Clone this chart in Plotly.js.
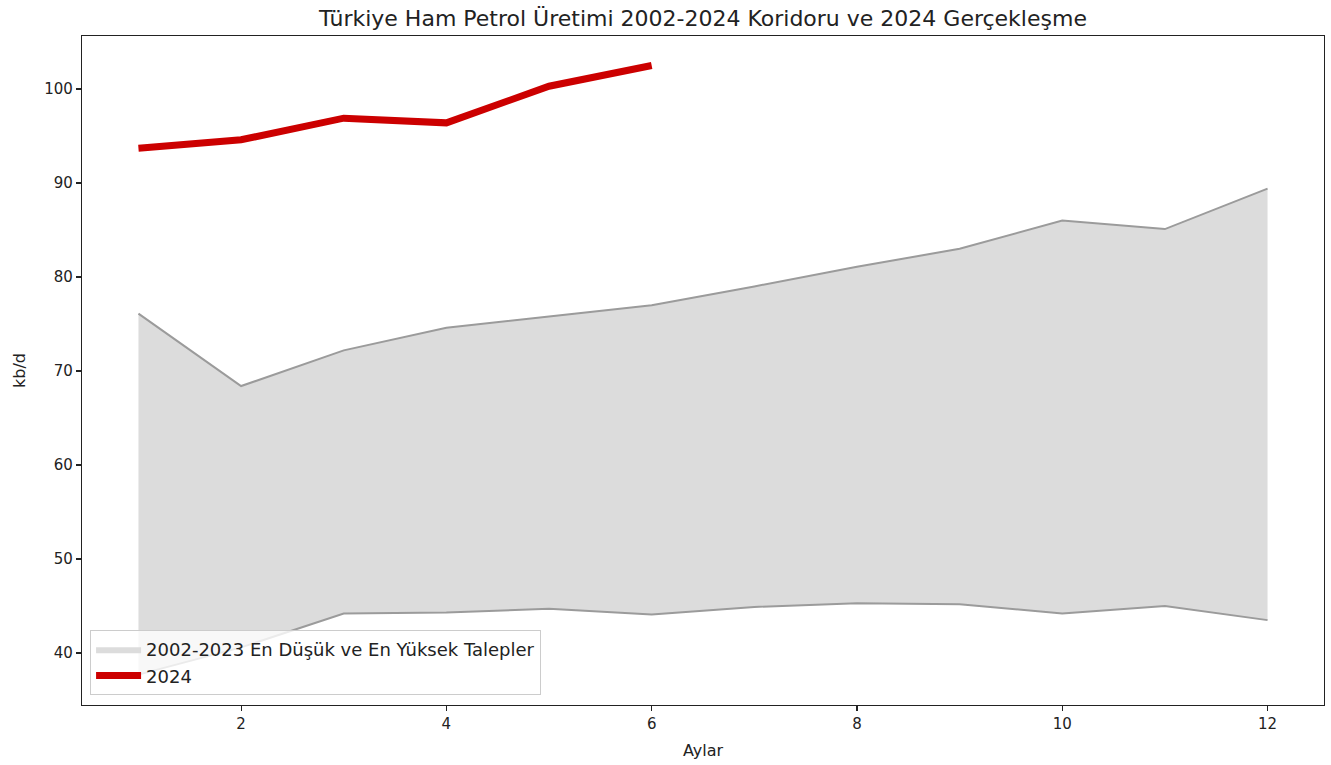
<!DOCTYPE html>
<html>
<head>
<meta charset="utf-8">
<script src="https://cdn.plot.ly/plotly-3.0.1.min.js"></script>
<style>html,body{margin:0;padding:0;background:#fff;}#chart{width:1331px;height:765px;}</style>
</head>
<body>
<div id="chart"></div>
<script>
const months = [1,2,3,4,5,6,7,8,9,10,11,12];
const minValues = [37.7,40.6,44.2,44.3,44.7,44.1,44.9,45.3,45.2,44.2,45.0,43.5];
const maxValues = [76.1,68.4,72.2,74.6,75.8,77.0,79.0,81.1,83.0,86.0,85.1,89.4];
const months2024 = [1,2,3,4,5,6];
const values2024 = [93.7,94.6,96.9,96.4,100.3,102.5];
const xTicks = [2,4,6,8,10,12];
const yTicks = [40,50,60,70,80,90,100];

const fillColor = 'rgb(220,220,220)';
const edgeColor = 'rgb(155,155,155)';

// corridor polygon built from the min/max arrays
const polyX = months.concat(months.slice().reverse());
const polyY = minValues.concat(maxValues.slice().reverse());

const traces = [
  {x: polyX, y: polyY, type: 'scatter', mode: 'lines', fill: 'toself', fillcolor: fillColor,
   line: {width: 0, color: fillColor}, name: '2002-2023 En Düşük ve En Yüksek Talepler'},
  {x: months, y: minValues, type: 'scatter', mode: 'lines', line: {color: edgeColor, width: 2}, showlegend: false},
  {x: months, y: maxValues, type: 'scatter', mode: 'lines', line: {color: edgeColor, width: 2}, showlegend: false},
  {x: months2024, y: values2024, type: 'scatter', mode: 'lines', line: {color: '#cc0000', width: 7}, name: '2024'}
];

const axisCommon = {
  showline: true, mirror: true, linecolor: '#222', linewidth: 1.2,
  ticks: 'outside', ticklen: 5, tickcolor: '#222', tickwidth: 1.2,
  showgrid: false, zeroline: false,
  tickfont: {family: 'DejaVu Sans', size: 15, color: '#222'}
};

const layout = {
  width: 1331, height: 765,
  margin: {l: 82, r: 7, t: 36, b: 60},
  paper_bgcolor: '#fff', plot_bgcolor: '#fff',
  font: {family: 'DejaVu Sans', color: '#222'},
  title: {text: 'Türkiye Ham Petrol Üretimi 2002-2024 Koridoru ve 2024 Gerçekleşme',
          font: {family: 'DejaVu Sans', size: 22, color: '#222'},
          xref: 'paper', x: 0.5, xanchor: 'center', y: 0.976, yanchor: 'middle'},
  xaxis: Object.assign({}, axisCommon, {
    range: [0.45, 12.55], tickvals: xTicks,
    title: {text: 'Aylar', font: {family: 'DejaVu Sans', size: 16, color: '#222'}, standoff: 12}
  }),
  yaxis: Object.assign({}, axisCommon, {
    range: [34.47, 105.64], tickvals: yTicks,
    title: {text: 'kb/d', font: {family: 'DejaVu Sans', size: 16, color: '#222'}, standoff: 14}
  }),
  legend: {
    x: 0.0065, y: 0.015, xanchor: 'left', yanchor: 'bottom',
    bgcolor: 'rgba(255,255,255,0.8)', bordercolor: '#cccccc', borderwidth: 1,
    font: {family: 'DejaVu Sans', size: 18, color: '#222'},
    itemwidth: 45, tracegroupgap: 0, traceorder: 'normal'
  },
  showlegend: true
};

Plotly.newPlot('chart', traces, layout, {displayModeBar: false, staticPlot: true});
</script>
</body>
</html>
